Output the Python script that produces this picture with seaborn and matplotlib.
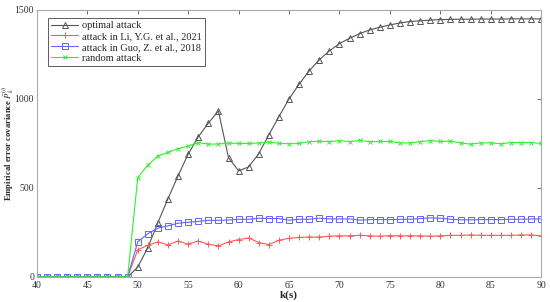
import numpy as np
import pandas as pd
import matplotlib
matplotlib.use("Agg")
import matplotlib.pyplot as plt
import seaborn as sns

# time steps
k = list(range(40, 91))

zeros = [0] * 10  # k = 40..49
optimal = zeros + [55, 165, 305, 440, 568, 690, 787, 864, 933, 670,
                   596, 618, 693, 798, 901, 1000, 1083, 1158, 1220, 1270,
                   1311, 1341, 1367, 1388, 1403, 1416, 1427, 1435, 1439, 1443,
                   1446, 1447, 1448, 1448, 1449, 1449, 1449, 1450, 1450, 1450, 1450]
li_2021 = zeros + [152, 178, 197, 180, 202, 184, 202, 184, 174, 197,
                   210, 219, 193, 182, 206, 217, 222, 224, 224, 229,
                   231, 231, 234, 231, 229, 232, 231, 231, 231, 229,
                   231, 234, 234, 236, 234, 234, 234, 234, 236, 236, 231]
guo_2018 = zeros + [197, 243, 274, 287, 302, 307, 312, 318, 318, 320,
                    324, 324, 330, 328, 328, 319, 324, 324, 330, 326,
                    326, 326, 319, 322, 322, 322, 324, 324, 328, 332,
                    330, 324, 321, 321, 322, 322, 322, 324, 324, 326, 326]
random_att = zeros + [558, 628, 680, 700, 720, 735, 755, 746, 747, 752,
                      750, 750, 752, 757, 751, 748, 750, 760, 762, 760,
                      766, 760, 767, 760, 761, 761, 753, 753, 760, 766,
                      761, 763, 753, 746, 753, 753, 748, 755, 755, 755, 750]

labels = ["optimal attack", "attack in Li, Y.G. et al., 2021",
          "attack in Guo, Z. et al., 2018", "random attack"]

sns.set_style("white")
plt.rcParams["font.family"] = ["Liberation Serif", "DejaVu Serif"]
plt.rcParams["mathtext.fontset"] = "stix"

fig = plt.figure(figsize=(5.5, 3.02), dpi=100)
ax = fig.add_axes([0.067, 0.083, 0.917, 0.884])

styles = [
    (optimal, "#555555", "^", dict(markerfacecolor="none", markersize=4.5)),
    (li_2021, "#ff5a5a", "+", dict(markersize=5)),
    (guo_2018, "#6464ff", "s", dict(markerfacecolor="none", markersize=4)),
    (random_att, "#33ee33", "x", dict(markersize=3.5)),
]
for (vals, col, mk, kw), lab in zip(styles, labels):
    sns.lineplot(x=k, y=vals, ax=ax, color=col, marker=mk, label=lab,
                 linewidth=0.8, markeredgecolor=col, markeredgewidth=0.7, **kw)

ax.set_xlim(40, 90)
ax.set_ylim(0, 1500)
ax.set_xticks(range(40, 91, 5))
ax.set_yticks([0, 500, 1000, 1500])
ax.tick_params(direction="in", length=3, labelsize=7, colors="#333333",
               top=True, right=True, width=0.5, pad=2)
ax.tick_params(axis="x", pad=3)
for s in ax.spines.values():
    s.set_color("#aaaaaa")
    s.set_linewidth(0.8)

ax.set_xlabel("k(s)", fontsize=8, fontweight="bold", labelpad=0)
ax.set_ylabel(r"Empirical error covariance $\bar{P}_k^{(i)}$", fontsize=6.2,
              fontweight="bold")
ax.yaxis.set_label_coords(-0.041, 0.5)

leg = ax.legend(loc="upper left", fontsize=7.5, frameon=True, fancybox=False,
                handlelength=2.6, borderpad=0.3, labelspacing=0.15,
                handletextpad=0.4, bbox_to_anchor=(0.012, 0.99))
leg.get_frame().set_edgecolor("#333333")
leg.get_frame().set_linewidth(0.7)

fig.savefig("out.png", dpi=100)
